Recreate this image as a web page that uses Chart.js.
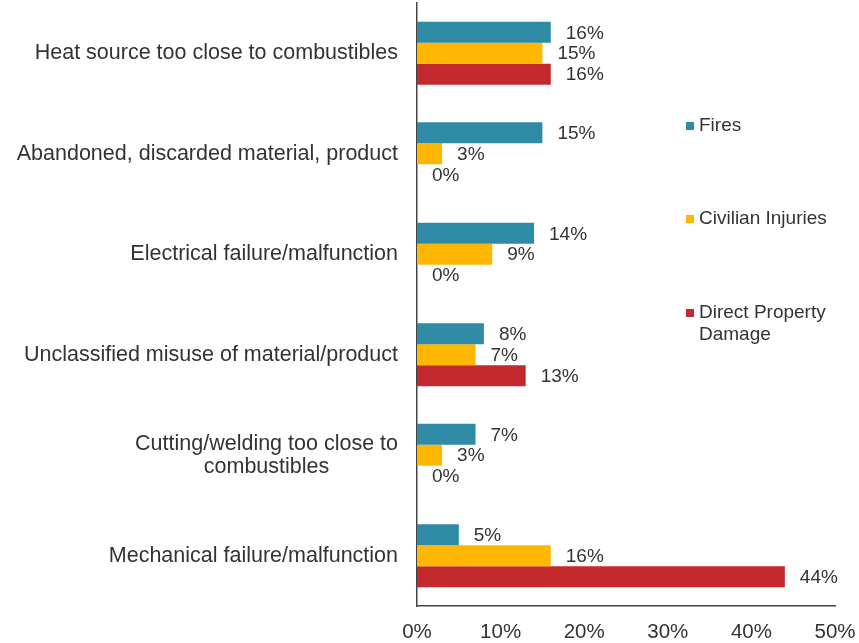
<!DOCTYPE html>
<html>
<head>
<meta charset="utf-8">
<script src="https://cdn.jsdelivr.net/npm/chart.js@4.4.1/dist/chart.umd.min.js"></script>
<style>
  html, body { margin: 0; padding: 0; background: #fff; }
  #wrap { position: relative; width: 859px; height: 643px; }
</style>
</head>
<body>
<div id="wrap"><canvas id="causes" width="859" height="643"></canvas></div>
<script>
var causes = [
	['Heat source too close to combustibles'],
	['Abandoned, discarded material, product'],
	['Electrical failure/malfunction'],
	['Unclassified misuse of material/product'],
	['Cutting/welding too close to', 'combustibles'],
	['Mechanical failure/malfunction']
];
var fires = [16, 15, 14, 8, 7, 5];
var injuries = [15, 3, 9, 7, 3, 16];
var damage = [16, 0, 0, 13, 0, 44];
var seriesNames = ['Fires', 'Civilian Injuries', 'Direct Property Damage'];
var xTicks = [0, 10, 20, 30, 40, 50];

var colors = {
	fires: '#2F8AA6',
	injuries: '#FFB703',
	damage: '#C3282C',
	text: '#333333',
	axis: '#444444'
};
var font = '"Liberation Sans", Arial, sans-serif';

// category names drawn by hand so the wrapped one can be centred under its first line
var categoryLabels = {
	id: 'categoryLabels',
	afterDraw: function (chart) {
		var ctx = chart.ctx;
		var yScale = chart.scales.y;
		var right = chart.chartArea.left - 19;
		ctx.save();
		ctx.font = '21.5px ' + font;
		ctx.fillStyle = colors.text;
		ctx.textBaseline = 'middle';
		for (var i = 0; i < causes.length; i++) {
			var lines = causes[i];
			var y = yScale.getPixelForTick(i);
			var lineHeight = 23;
			var top = y - (lines.length - 1) * lineHeight / 2;
			var widest = 0;
			for (var j = 0; j < lines.length; j++) {
				widest = Math.max(widest, ctx.measureText(lines[j]).width);
			}
			ctx.textAlign = 'center';
			for (var j = 0; j < lines.length; j++) {
				ctx.fillText(lines[j], right - widest / 2, top + j * lineHeight);
			}
		}
		ctx.restore();
	}
};

// percentage next to the end of each bar
var valueLabels = {
	id: 'valueLabels',
	afterDatasetsDraw: function (chart) {
		var ctx = chart.ctx;
		ctx.save();
		ctx.font = '19px ' + font;
		ctx.fillStyle = colors.text;
		ctx.textAlign = 'left';
		ctx.textBaseline = 'middle';
		chart.data.datasets.forEach(function (ds, d) {
			var meta = chart.getDatasetMeta(d);
			meta.data.forEach(function (bar, i) {
				ctx.fillText(ds.data[i] + '%', bar.x + 15, bar.y + 1);
			});
		});
		ctx.restore();
	}
};

// legend sits in the empty space on the right
var sideLegend = {
	id: 'sideLegend',
	afterDraw: function (chart) {
		var ctx = chart.ctx;
		var x = 686;
		var rows = [126, 219, 313];
		var wrapped = [['Fires'], ['Civilian Injuries'], ['Direct Property', 'Damage']];
		ctx.save();
		ctx.font = '19px ' + font;
		ctx.textAlign = 'left';
		ctx.textBaseline = 'middle';
		chart.data.datasets.forEach(function (ds, d) {
			ctx.fillStyle = ds.backgroundColor;
			ctx.fillRect(x, rows[d] - 4, 8, 8);
			ctx.fillStyle = colors.text;
			for (var j = 0; j < wrapped[d].length; j++) {
				ctx.fillText(wrapped[d][j], x + 13, rows[d] + j * 22);
			}
		});
		ctx.restore();
	}
};

var chart = new Chart(document.getElementById('causes'), {
	type: 'bar',
	data: {
		labels: causes,
		datasets: [
			{ label: seriesNames[0], data: fires, backgroundColor: colors.fires },
			{ label: seriesNames[1], data: injuries, backgroundColor: colors.injuries },
			{ label: seriesNames[2], data: damage, backgroundColor: colors.damage }
		]
	},
	options: {
		indexAxis: 'y',
		responsive: false,
		animation: false,
		devicePixelRatio: 1,
		categoryPercentage: 0.625,
		barPercentage: 1,
		layout: { padding: { top: 3, right: 24, left: 0, bottom: 0 } },
		plugins: {
			legend: { display: false },
			tooltip: { enabled: false }
		},
		scales: {
			x: {
				min: 0,
				max: 50,
				afterBuildTicks: function (scale) {
					scale.ticks = xTicks.map(function (v) { return { value: v }; });
				},
				grid: { display: false, drawTicks: false },
				border: { display: true, color: colors.axis, width: 1.5 },
				ticks: {
					padding: 14,
					color: colors.text,
					font: { size: 20.5, family: font },
					maxRotation: 0,
					callback: function (v) { return v + '%'; }
				},
				afterFit: function (scale) {
					scale.height = 37;
					scale.paddingLeft = 0;
					scale.paddingRight = 0;
				}
			},
			y: {
				grid: { display: false, drawTicks: false },
				border: { display: true, color: colors.axis, width: 1.5 },
				ticks: { display: false },
				afterFit: function (scale) { scale.width = 417; }
			}
		}
	},
	plugins: [categoryLabels, valueLabels, sideLegend]
});
</script>
</body>
</html>
